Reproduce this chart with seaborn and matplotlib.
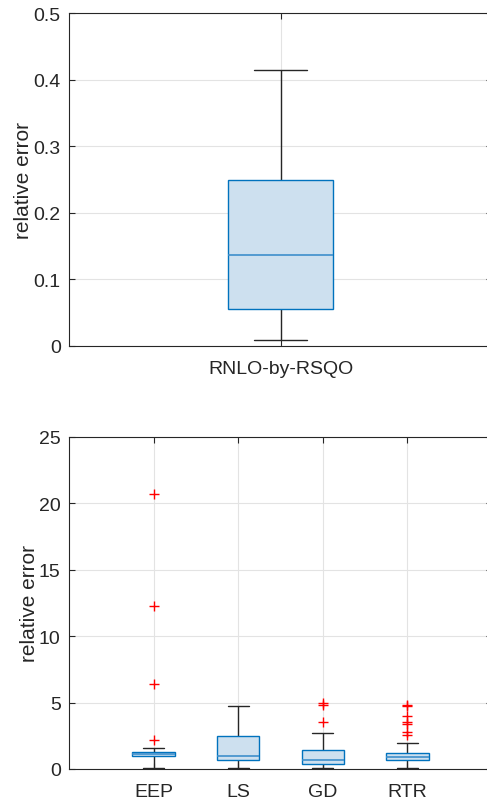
import pandas as pd
import matplotlib
matplotlib.use('Agg')
import matplotlib.pyplot as plt
import seaborn as sns

# five-number summaries: [low whisker, q1, median, q3, high whisker]
top_name = 'RNLO-by-RSQO'
top_summary = [0.009, 0.056, 0.137, 0.249, 0.415]

methods = ['EEP', 'LS', 'GD', 'RTR']
eep_summary = [0.07, 1.0, 1.12, 1.31, 1.56]
ls_summary = [0.07, 0.68, 0.95, 2.46, 4.78]
gd_summary = [0.07, 0.35, 0.65, 1.43, 2.74]
rtr_summary = [0.07, 0.68, 0.93, 1.2, 1.97]

# outliers (red +)
eep_out = [2.15, 6.4, 12.3, 20.7]
ls_out = []
gd_out = [3.56, 4.82, 4.97]
rtr_out = [2.55, 2.76, 3.41, 3.56, 4.02, 4.72, 4.84]

top_ticks = [0, 0.1, 0.2, 0.3, 0.4, 0.5]
bottom_ticks = [0, 5, 10, 15, 20, 25]

sns.set_style('ticks')
plt.rcParams['font.family'] = ['Liberation Sans', 'DejaVu Sans']

df_top = pd.DataFrame({'method': top_name, 'value': top_summary})
summaries = [eep_summary, ls_summary, gd_summary, rtr_summary]
outs = [eep_out, ls_out, gd_out, rtr_out]
df_box = pd.DataFrame({'method': [m for m, s in zip(methods, summaries) for _ in s],
                       'value': [v for s in summaries for v in s]})
df_out = pd.DataFrame({'method': [m for m, o in zip(methods, outs) for _ in o],
                       'value': [v for o in outs for v in o]})

fill = '#cde0ef'
edge = '#0072BD'
dark = '#262626'
box_kw = dict(whis=(0, 100), width=0.5, showfliers=False, linewidth=1,
              boxprops=dict(facecolor=fill, edgecolor=edge, zorder=3),
              medianprops=dict(color='#3d8fcc', linewidth=1.2, zorder=4),
              whiskerprops=dict(color=dark, linewidth=1),
              capprops=dict(color=dark, linewidth=1))

fig = plt.figure(figsize=(4.87, 8.04), dpi=100)
ax1 = fig.add_axes([69/487, (804-347)/804, (492-69)/487, (347-14)/804])
ax2 = fig.add_axes([69/487, (804-770)/804, (492-69)/487, (770-438)/804])

sns.boxplot(data=df_top, x='method', y='value', ax=ax1, **box_kw)
ax1.set_xlim(-1, 1)
ax1.set_ylim(0, 0.5)
ax1.set_yticks(top_ticks)
ax1.set_yticklabels(['0', '0.1', '0.2', '0.3', '0.4', '0.5'])

sns.boxplot(data=df_box, x='method', y='value', order=methods, ax=ax2, **box_kw)
sns.stripplot(data=df_out, x='method', y='value', order=methods, ax=ax2,
              jitter=False, marker='+', color='red', size=7, linewidth=1, zorder=5)
ax2.set_xlim(-1, 4)
ax2.set_ylim(0, 25)
ax2.set_yticks(bottom_ticks)

for ax in (ax1, ax2):
    ax.set_xlabel('')
    ax.set_ylabel('relative error', fontsize=15, color=dark, labelpad=0)
    ax.grid(True, color='#e3e3e3', linewidth=0.8, zorder=0)
    ax.set_axisbelow(True)
    for side in ax.spines.values():
        side.set_visible(True)
        side.set_color(dark)
        side.set_linewidth(0.8)
    ax.tick_params(direction='in', top=True, right=True, length=4, width=0.8,
                   colors=dark, labelsize=14, labelcolor=dark)
    ax.tick_params(axis='x', pad=10)
    ax.tick_params(axis='y', pad=6)

plt.savefig('out.png', dpi=100)
